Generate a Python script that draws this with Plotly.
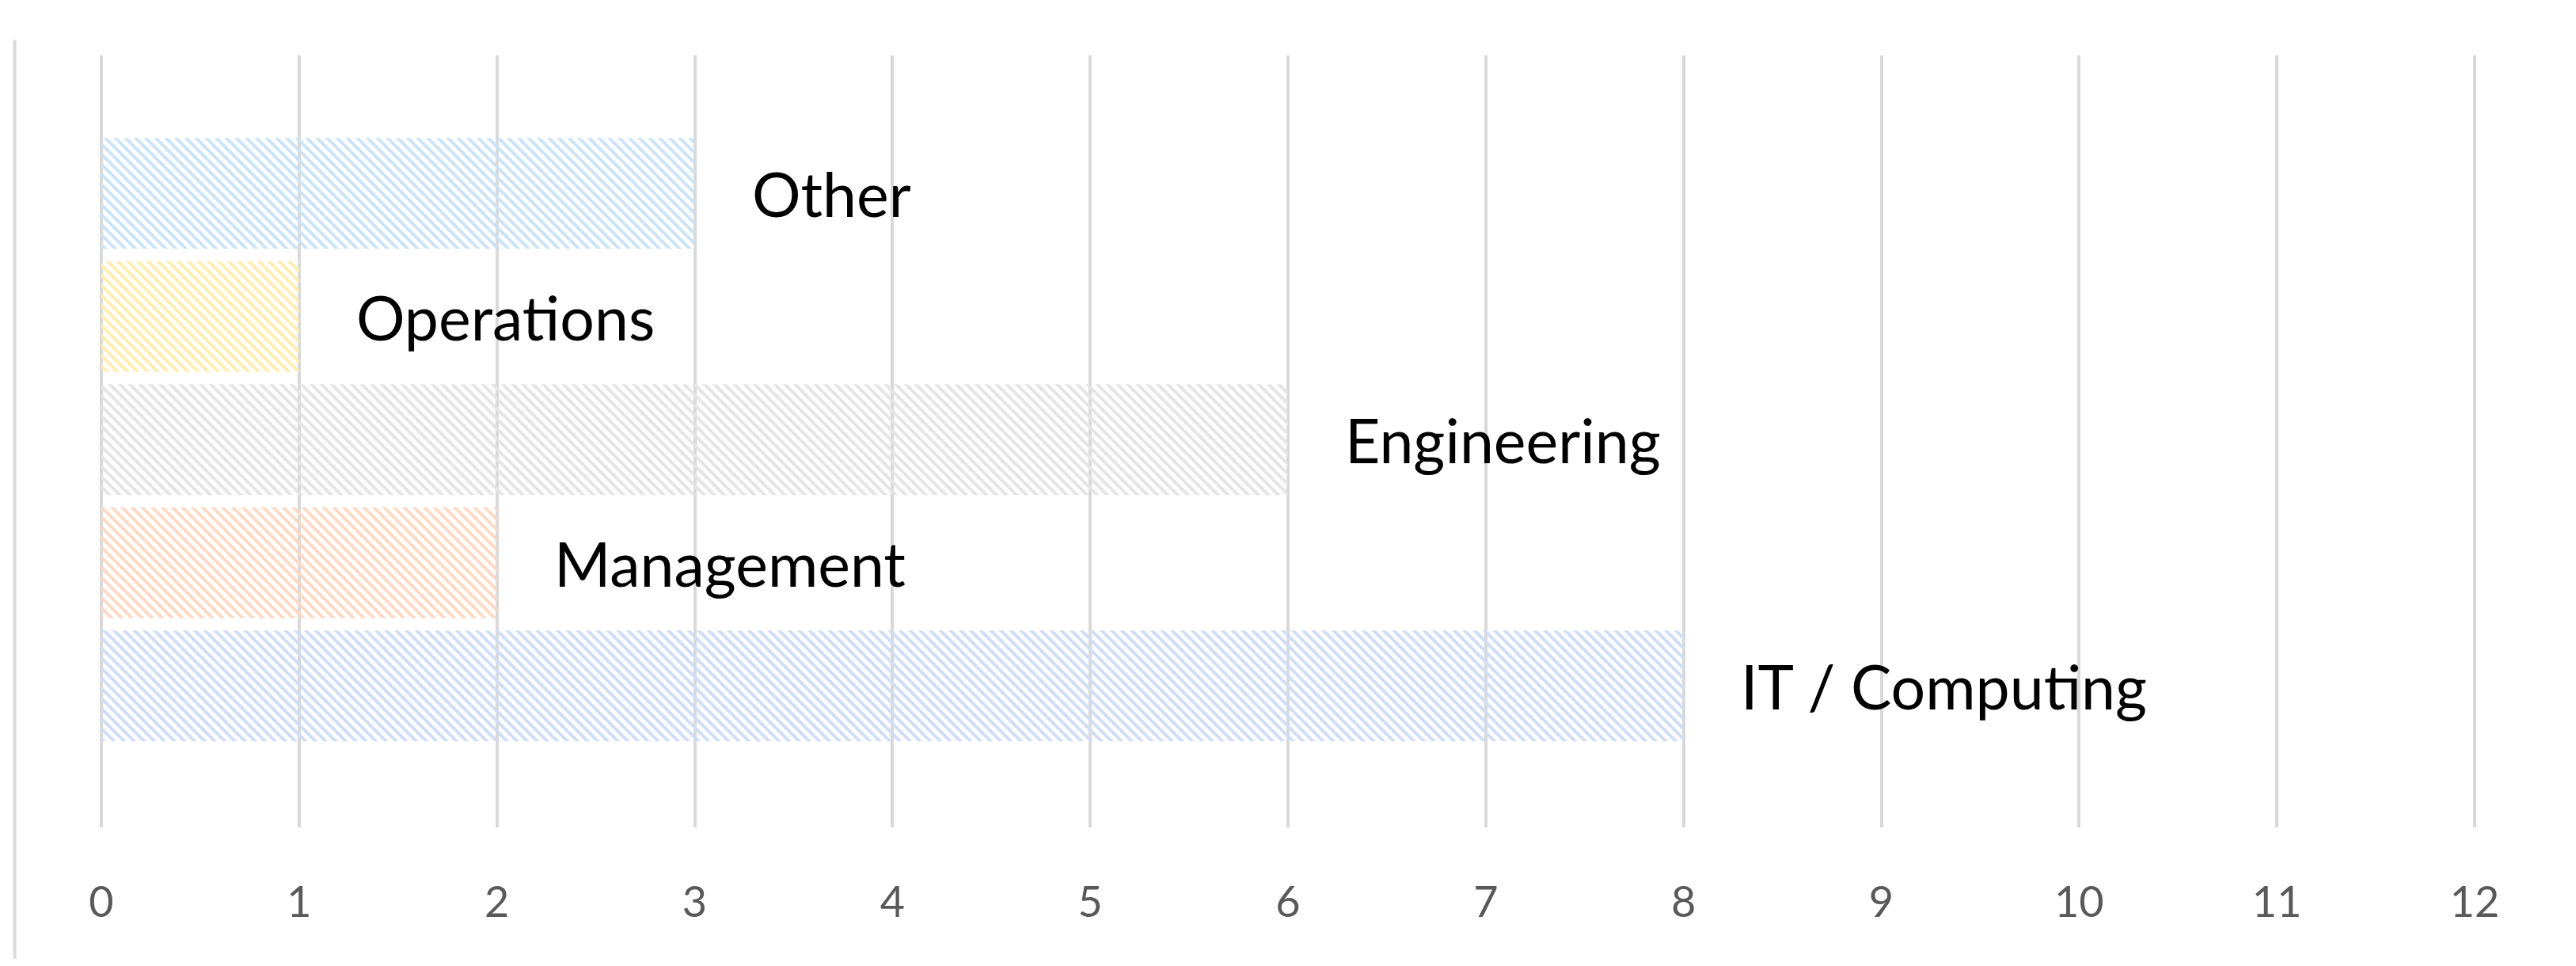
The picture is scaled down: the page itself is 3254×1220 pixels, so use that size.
import plotly.graph_objects as go

categories = ["IT / Computing", "Management", "Engineering", "Operations", "Other"]
values = [8, 2, 6, 1, 3]
fg_colors = ["#5B8BD8", "#F4975A", "#B0B0B0", "#FFC61A", "#5AA8DE"]
bg_colors = ["#CFDDF5", "#FCD9C4", "#E4E4E4", "#FFEDB0", "#CBE3F5"]
tick_vals = list(range(13))

fig = go.Figure()
fig.add_trace(go.Bar(
    y=list(range(len(categories))), x=values, orientation="h",
    marker=dict(color=bg_colors, line=dict(width=0),
                pattern=dict(shape="\\", fgcolor=fg_colors, bgcolor=bg_colors,
                             size=9, solidity=0.45, fillmode="replace")),
    width=0.9, showlegend=False, hoverinfo="skip"))

for i, (c, v) in enumerate(zip(categories, values)):
    fig.add_annotation(x=v, y=i, text=c, showarrow=False, xanchor="left",
                       xshift=70, font=dict(family="Lato, Open Sans, sans-serif", size=77, color="#000000"))

fig.add_shape(type="line", xref="paper", yref="paper", x0=-0.033, x1=-0.033, y0=-0.17, y1=1.02,
              line=dict(color="#D9D9D9", width=4))

fig.update_xaxes(range=[-0.04, 12.02], tickvals=tick_vals, showgrid=True, gridcolor="#D9D9D9",
                 gridwidth=4, zeroline=False, showline=False, ticks="",
                 tickfont=dict(family="Lato, sans-serif", size=54, color="#595959"), ticklabelstandoff=58)
fig.update_yaxes(range=[-1.15, 5.12], showticklabels=False, showgrid=False, zeroline=False)
fig.update_layout(width=3254, height=1220, plot_bgcolor="white", paper_bgcolor="white",
                  margin=dict(l=110, r=131, t=62, b=183))
fig.write_html("out.html")
